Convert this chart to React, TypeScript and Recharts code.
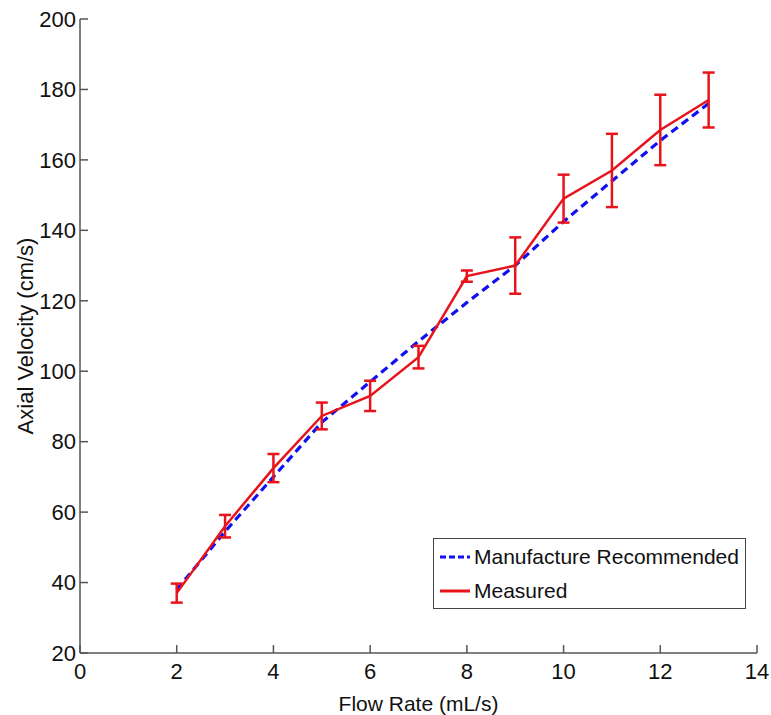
import {
  LineChart, Line, XAxis, YAxis, ErrorBar, Legend,
} from 'recharts';

// Flow rate (mL/s)
const flowRates = [2, 3, 4, 5, 6, 7, 8, 9, 10, 11, 12, 13];
// Axial velocity (cm/s)
const recommended = [38, 54.5, 70, 85.5, 97, 108.5, 119.5, 130, 142.5, 154, 165.5, 176];
const measured = [37, 56, 72.5, 87.3, 93, 104, 127, 130, 149, 157, 168.5, 177];
const measuredErr = [2.7, 3.2, 4, 3.8, 4.3, 3.2, 1.6, 8, 6.8, 10.4, 10, 7.8];

const xTicks = [0, 2, 4, 6, 8, 10, 12, 14];
const yTicks = [20, 40, 60, 80, 100, 120, 140, 160, 180, 200];

const data = flowRates.map((x, i) => ({
  x,
  recommended: recommended[i],
  measured: measured[i],
  err: measuredErr[i],
}));

const FONT = '"Liberation Sans", Arial, sans-serif';
const AXIS = '#555';
const BLUE = '#1010f0';
const RED = '#e8141c';
const tickStyle = { fontSize: 22, fill: '#111', fontFamily: FONT };

function LegendBox() {
  const row = (dashed: boolean, color: string, text: string) => (
    <div style={{ display: 'flex', alignItems: 'center', height: 34 }}>
      <svg width={30} height={10} style={{ marginRight: 4 }}>
        <line
          x1={0} y1={5} x2={30} y2={5}
          stroke={color} strokeWidth={3}
          strokeDasharray={dashed ? '6 3' : undefined}
        />
      </svg>
      <span style={{ fontSize: 21, color: '#111', fontFamily: FONT }}>{text}</span>
    </div>
  );
  return (
    <div
      style={{
        width: 313, height: 71, boxSizing: 'border-box', border: '1.5px solid #444',
        background: '#fff', padding: '1px 0 0 6px',
      }}
    >
      {row(true, BLUE, 'Manufacture Recommended')}
      {row(false, RED, 'Measured')}
    </div>
  );
}

export default function App() {
  return (
    <div style={{ position: 'absolute', left: 0, top: 0, background: '#fff' }}>
      <LineChart
        width={771}
        height={715}
        data={data}
        margin={{ top: 19, right: 14, bottom: 0, left: 0 }}
      >
        <XAxis
          dataKey="x"
          type="number"
          domain={[0, 14]}
          ticks={xTicks}
          height={62}
          tickSize={-8}
          tickMargin={18}
          stroke={AXIS}
          strokeWidth={1.5}
          tick={tickStyle}
          label={{
            value: 'Flow Rate (mL/s)', position: 'insideBottom', offset: 4,
            style: { fontSize: 21, fill: '#111', fontFamily: FONT },
          }}
        />
        <XAxis
          xAxisId="top"
          orientation="top"
          type="number"
          domain={[0, 14]}
          ticks={xTicks}
          height={0}
          tickSize={-8}
          stroke={AXIS}
          strokeWidth={1.5}
          tickFormatter={() => ''}
        />
        <YAxis
          type="number"
          domain={[20, 200]}
          ticks={yTicks}
          width={80}
          tickSize={-8}
          tickMargin={12}
          stroke={AXIS}
          strokeWidth={1.5}
          tick={tickStyle}
          label={{
            value: 'Axial Velocity (cm/s)', angle: -90, position: 'insideLeft', offset: 25,
            style: { fontSize: 22, fill: '#111', fontFamily: FONT, textAnchor: 'middle' },
          }}
        />
        <YAxis
          yAxisId="right"
          orientation="right"
          type="number"
          domain={[20, 200]}
          ticks={yTicks}
          width={0}
          tickSize={-8}
          stroke={AXIS}
          strokeWidth={1.5}
          tickFormatter={() => ''}
        />
        <Legend
          layout="vertical"
          align="center"
          verticalAlign="middle"
          wrapperStyle={{ left: 433, top: 538, width: 313 }}
          content={() => <LegendBox />}
        />
        <Line
          dataKey="recommended"
          stroke={BLUE}
          strokeWidth={3.2}
          strokeDasharray="8 5"
          dot={false}
          isAnimationActive={false}
        />
        <Line
          dataKey="measured"
          stroke={RED}
          strokeWidth={2.5}
          dot={false}
          isAnimationActive={false}
        >
          <ErrorBar dataKey="err" direction="y" width={6} stroke={RED} strokeWidth={2.5} />
        </Line>
      </LineChart>
    </div>
  );
}
